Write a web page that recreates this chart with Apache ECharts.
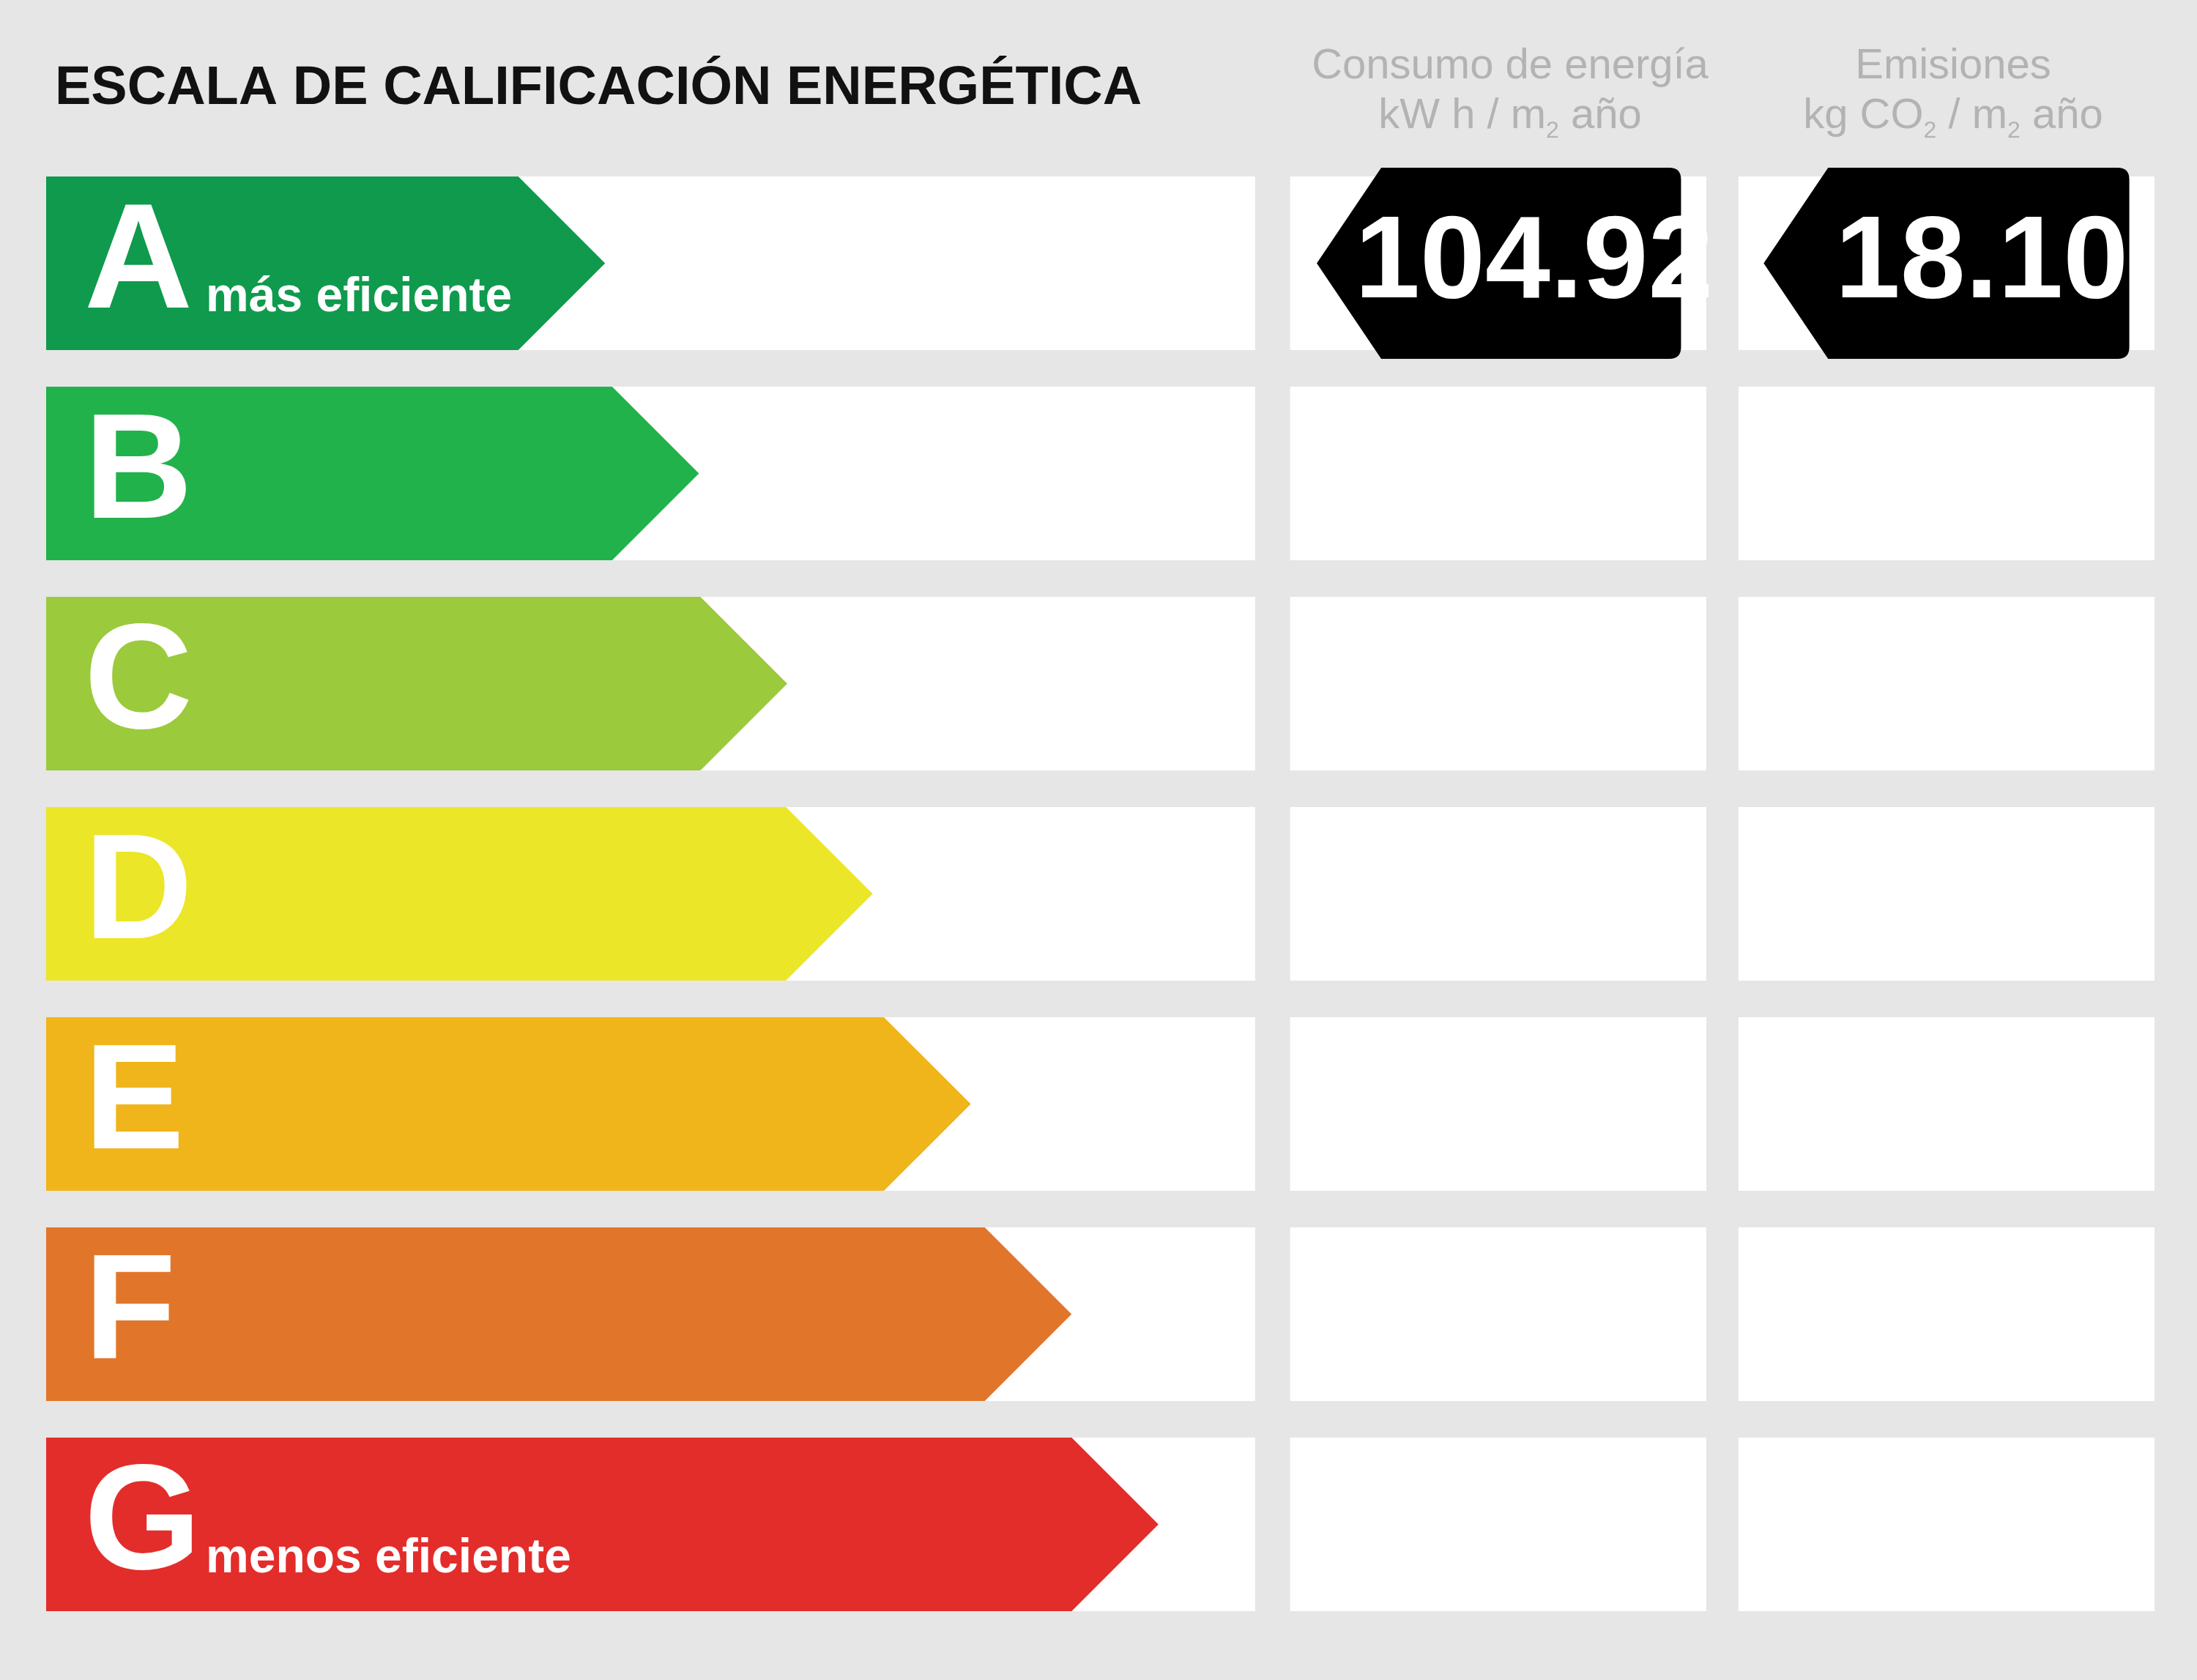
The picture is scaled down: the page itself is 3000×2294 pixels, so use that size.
<!DOCTYPE html>
<html>
<head>
<meta charset="utf-8">
<script src="https://cdn.jsdelivr.net/npm/echarts@6/dist/echarts.min.js"></script>
<style>
  html, body { margin: 0; padding: 0; background: #e6e6e6; }
  #chart { width: 3000px; height: 2294px; }
</style>
</head>
<body>
<div id="chart"></div>
<script>
// clases energeticas
var grades = ['A', 'B', 'C', 'D', 'E', 'F', 'G'];
var arrowLength = [399, 466, 529, 590, 660, 732, 794];
var gradeColors = ['#109a4d', '#22b24c', '#9bca3c', '#ebe627', '#f0b51b', '#e1762a', '#e32d2b'];
var gradeNotes = ['más eficiente', '', '', '', '', '', 'menos eficiente'];
// columnas blancas (inicio, fin)
var columns = [[0, 863], [888, 1185], [1208, 1505]];
// valores calificados
var ratedGrade = 'A';
var ratedValues = ['104.92', '18.10'];
var badgeRange = [[907, 1167], [1226, 1487]];

var narrow = '"Liberation Sans Narrow", "Arial Narrow", "Liberation Sans", Arial, sans-serif';
var myChart = echarts.init(document.getElementById('chart'));

var option = {
    backgroundColor: '#e6e6e6',
    animation: false,
    grid: { left: 63, right: 58, top: 216, bottom: 69 },
    xAxis: { type: 'value', min: 0, max: 1505, show: false },
    yAxis: { type: 'category', data: grades, inverse: true, show: false },
    title: [
        {
            text: 'ESCALA DE CALIFICACIÓN ENERGÉTICA',
            left: 70, top: 80,
            textStyle: { fontFamily: '"Liberation Sans", Arial', fontWeight: 'bold', fontSize: 74, color: '#111' }
        },
        {
            text: 'Consumo de energía\nkW h / m{s|2} año',
            left: 2057, top: 52, textAlign: 'center',
            textStyle: {
                fontFamily: narrow, fontSize: 58, lineHeight: 68, color: '#b3b3b3', fontWeight: 'normal',
                rich: { s: { fontFamily: narrow, fontSize: 32, color: '#b3b3b3', padding: [40, 0, 0, 0] } }
            }
        },
        {
            text: 'Emisiones\nkg CO{s|2} / m{s|2} año',
            left: 2662, top: 52, textAlign: 'center',
            textStyle: {
                fontFamily: narrow, fontSize: 58, lineHeight: 68, color: '#b3b3b3', fontWeight: 'normal',
                rich: { s: { fontFamily: narrow, fontSize: 32, color: '#b3b3b3', padding: [40, 0, 0, 0] } }
            }
        }
    ],
    series: [
        {
            // filas blancas de fondo
            type: 'custom',
            data: grades.map(function (g, i) { return [i]; }),
            renderItem: function (params, api) {
                var idx = api.value(0);
                var h = api.size([0, 1])[1] * 0.826;
                var children = columns.map(function (c) {
                    var p0 = api.coord([c[0], idx]);
                    var p1 = api.coord([c[1], idx]);
                    return { type: 'rect', shape: { x: p0[0], y: p0[1] - h / 2, width: p1[0] - p0[0], height: h }, style: { fill: '#ffffff' } };
                });
                return { type: 'group', children: children };
            }
        },
        {
            // flechas de color
            type: 'custom',
            data: arrowLength.map(function (v, i) { return [v, i]; }),
            renderItem: function (params, api) {
                var i = params.dataIndex;
                var idx = api.value(1);
                var h = api.size([0, 1])[1] * 0.826;
                var start = api.coord([0, idx]);
                var tip = api.coord([api.value(0), idx]);
                var shoulder = tip[0] - h / 2;
                var top = start[1] - h / 2, bot = start[1] + h / 2;
                var children = [{
                    type: 'polygon',
                    shape: { points: [[start[0], top], [shoulder, top], [tip[0], start[1]], [shoulder, bot], [start[0], bot]] },
                    style: { fill: gradeColors[i] }
                }, {
                    type: 'text',
                    style: {
                        text: grades[i], x: start[0] + 52, y: start[1] + 4, verticalAlign: 'middle',
                        fontFamily: '"Liberation Sans", Arial', fontWeight: 'bold', fontSize: 205, fill: '#ffffff'
                    }
                }];
                if (gradeNotes[i]) {
                    children.push({
                        type: 'text',
                        style: {
                            text: gradeNotes[i], x: start[0] + 218, y: start[1] + 80, verticalAlign: 'bottom',
                            fontFamily: '"Liberation Sans", Arial', fontWeight: 'bold', fontSize: 66, fill: '#ffffff'
                        }
                    });
                }
                return { type: 'group', children: children };
            }
        },
        {
            // indicadores negros
            type: 'custom',
            data: ratedValues.map(function (v, k) { return [badgeRange[k][0], badgeRange[k][1], ratedGrade, v]; }),
            encode: { x: [0, 1], y: 2 },
            renderItem: function (params, api) {
                var k = params.dataIndex;
                var idx = grades.indexOf(ratedGrade);
                var h = api.size([0, 1])[1] * 0.91;
                var left = api.coord([api.value(0), idx]);
                var right = api.coord([api.value(1), idx]);
                var cy = left[1];
                var top = cy - h / 2, bot = cy + h / 2, flat = left[0] + 88, r = 16;
                var path = 'M' + left[0] + ' ' + cy + ' L' + flat + ' ' + top +
                    ' L' + (right[0] - r) + ' ' + top + ' Q' + right[0] + ' ' + top + ' ' + right[0] + ' ' + (top + r) +
                    ' L' + right[0] + ' ' + (bot - r) + ' Q' + right[0] + ' ' + bot + ' ' + (right[0] - r) + ' ' + bot +
                    ' L' + flat + ' ' + bot + ' Z';
                return {
                    type: 'group',
                    children: [
                        { type: 'path', shape: { pathData: path }, style: { fill: '#000000' } },
                        {
                            type: 'text',
                            style: {
                                text: ratedValues[k], x: (flat + right[0]) / 2 + 4, y: cy + 2,
                                align: 'center', verticalAlign: 'middle',
                                fontFamily: narrow, fontWeight: 'bold', fontSize: 160, fill: '#ffffff'
                            }
                        }
                    ]
                };
            }
        }
    ]
};

myChart.setOption(option);
</script>
</body>
</html>
